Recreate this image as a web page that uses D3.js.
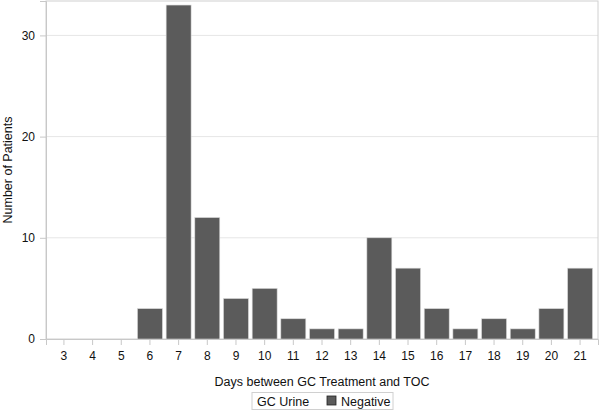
<!DOCTYPE html>
<html><head><meta charset="utf-8">
<script src="https://cdn.jsdelivr.net/npm/d3@7"></script>
<style>body{margin:0;background:#fff}svg{display:block}text{font-family:Arial,"Liberation Sans",sans-serif}</style>
</head><body><svg id="c" width="600" height="411"></svg>
<script>
const categories = ["3","4","5","6","7","8","9","10","11","12","13","14","15","16","17","18","19","20","21"];
const negative = [0,0,0,3,33,12,4,5,2,1,1,10,7,3,1,2,1,3,7];
const yTicks = [0,10,20,30];
const xTitle = "Days between GC Treatment and TOC";
const yTitle = "Number of Patients";
const legendTitle = "GC Urine";
const seriesName = "Negative";

const svg = d3.select("#c");
const L=46, R=598, T=1, B=339;
const x = d3.scaleBand().domain(categories).range([L,R]).paddingInner(0.13).paddingOuter(0.19);
const y = d3.scaleLinear().domain([0,33.4]).range([B,T]);

// gridlines
svg.append("g").selectAll("line").data(yTicks.filter(d=>d>0)).join("line")
  .attr("x1",L).attr("x2",R).attr("y1",d=>y(d)).attr("y2",d=>y(d))
  .attr("stroke","#e6e6e6").attr("stroke-width",1);

// frame
svg.append("rect").attr("x",L).attr("y",T).attr("width",R-L).attr("height",B-T)
  .attr("fill","none").attr("stroke","#d0d0d0");

// bars
svg.append("g").selectAll("rect").data(categories).join("rect")
  .attr("x",d=>x(d)).attr("width",x.bandwidth())
  .attr("y",(d,i)=>y(negative[i])).attr("height",(d,i)=>B-y(negative[i]))
  .attr("fill","#5b5b5b").attr("stroke","#d8d8d8").attr("stroke-width",0.6);

// axes
const yAxis = svg.append("g").attr("transform",`translate(${L},0)`)
  .call(d3.axisLeft(y).tickValues(yTicks).tickSize(6).tickPadding(5));
const xAxis = svg.append("g").attr("transform",`translate(0,${B})`)
  .call(d3.axisBottom(x).tickSize(6).tickPadding(6));
[yAxis,xAxis].forEach(a=>{
  a.select(".domain").attr("stroke","#c8c8c8");
  a.selectAll(".tick line").attr("stroke","#c8c8c8");
  a.selectAll(".tick text").attr("fill","#111").attr("font-size",12).attr("font-family","Arial, 'Liberation Sans', sans-serif");
});
xAxis.selectAll(".tick text").attr("dy","0.71em");

// titles
svg.append("text").attr("x",(L+R)/2).attr("y",386).attr("text-anchor","middle")
  .attr("font-size",12.5).attr("fill","#111").text(xTitle);
svg.append("text").attr("transform",`translate(12,${(T+B)/2}) rotate(-90)`).attr("text-anchor","middle")
  .attr("font-size",12.5).attr("fill","#111").text(yTitle);

// legend
const lg = svg.append("g");
lg.append("rect").attr("x",252).attr("y",392.5).attr("width",141).attr("height",17).attr("fill","#fff").attr("stroke","#d0d0d0");
lg.append("text").attr("x",257).attr("y",405.5).attr("font-size",12.5).attr("fill","#111").text(legendTitle);
lg.append("rect").attr("x",327).attr("y",396).attr("width",9).attr("height",9).attr("fill","#5b5b5b").attr("stroke","#222").attr("stroke-width",0.8);
lg.append("text").attr("x",341).attr("y",405.5).attr("font-size",12.5).attr("fill","#111").text(seriesName);
</script></body></html>
